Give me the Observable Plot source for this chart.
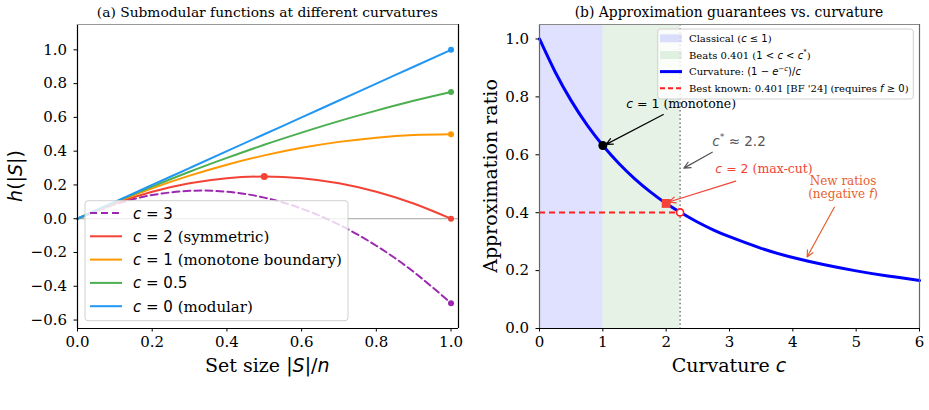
<!DOCTYPE html>
<html>
<head>
<meta charset="utf-8">
<script src="https://cdn.jsdelivr.net/npm/d3@7"></script>
<script src="https://cdn.jsdelivr.net/npm/@observablehq/plot@0.6"></script>
<style>
  html, body { margin: 0; padding: 0; background: #fff; }
  #fig { position: relative; width: 929px; height: 410px; overflow: hidden; }
  #fig svg { position: absolute; top: 0; }
</style>
</head>
<body>
<div id="fig"></div>
<script>
// ---------- data: panel (a), h(|S|) against set size |S|/n ----------
const setSize = [0, 0.1, 0.2, 0.3, 0.4, 0.5, 0.6, 0.7, 0.8, 0.9, 1.0];
const hC3  = [0, 0.085, 0.14, 0.165, 0.16, 0.125, 0.06, -0.035, -0.16, -0.315, -0.5];
const hC2  = [0, 0.09, 0.16, 0.21, 0.24, 0.25, 0.24, 0.21, 0.16, 0.09, 0];
const hC1  = [0, 0.095, 0.18, 0.255, 0.32, 0.375, 0.42, 0.455, 0.48, 0.495, 0.5];
const hC05 = [0, 0.098, 0.19, 0.278, 0.36, 0.438, 0.51, 0.578, 0.64, 0.698, 0.75];
const hC0  = [0, 0.1, 0.2, 0.3, 0.4, 0.5, 0.6, 0.7, 0.8, 0.9, 1.0];
const xTicksA = [0, 0.2, 0.4, 0.6, 0.8, 1.0];
const yTicksA = [-0.6, -0.4, -0.2, 0, 0.2, 0.4, 0.6, 0.8, 1.0];

// ---------- data: panel (b), approximation ratio against curvature ----------
const curvature = [0, 0.25, 0.5, 0.75, 1, 1.25, 1.5, 1.75, 2, 2.25, 2.5, 2.75, 3, 3.5, 4, 4.5, 5, 5.5, 6];
const ratio     = [1.000, 0.885, 0.787, 0.703, 0.632, 0.571, 0.518, 0.472, 0.432, 0.398, 0.367, 0.340, 0.317, 0.277, 0.245, 0.220, 0.199, 0.181, 0.166];
const cStar = 2.22;          // crossover curvature c*
const bestKnown = 0.401;     // best known ratio for non-negative f
const monotonePoint = [1, 0.632];
const maxCutPoint = [2, 0.432];
const xTicksB = [0, 1, 2, 3, 4, 5, 6];
const yTicksB = [0, 0.2, 0.4, 0.6, 0.8, 1.0];

// ---------- styling ----------
const SERIF = "'DejaVu Serif', 'Liberation Serif', serif";
const SANS = "'DejaVu Sans', sans-serif";
const fmt1 = d3.format(".1f");

// text made of runs in different faces (mathtext-like labels)
function richText(svg, x, y, parts, opts = {}) {
  const {size = 15, anchor = "start", fill = "black", rotate = 0} = opts;
  const t = d3.select(svg).append("text")
    .attr("x", x).attr("y", y)
    .attr("text-anchor", anchor)
    .attr("font-size", size)
    .attr("fill", fill)
    .attr("xml:space", "preserve")
    .style("white-space", "pre");
  if (rotate) t.attr("transform", `rotate(${rotate},${x},${y})`);
  let shift = 0;
  for (const [str, kind] of parts) {
    const sp = t.append("tspan").text(str);
    const sup = kind.startsWith("sup");
    sp.attr("font-family", kind === "serif" ? SERIF : SANS);
    if (kind === "it" || kind === "supit") sp.attr("font-style", "italic");
    const target = sup ? -0.42 * size : 0;
    if (target !== shift) { sp.attr("dy", target - shift); shift = target; }
    if (sup) sp.attr("font-size", size * 0.7);
  }
  return t;
}

const fig = document.getElementById("fig");

// ================= panel (a) =================
const curvesA = [
  {values: hC3,  color: "#9c27b0", dash: "7,4", label: [["c", "it"], [" = 3", "sans"]]},
  {values: hC2,  color: "#f44336", dash: null,  label: [["c", "it"], [" = 2", "sans"], [" (symmetric)", "serif"]]},
  {values: hC1,  color: "#ff9800", dash: null,  label: [["c", "it"], [" = 1", "sans"], [" (monotone boundary)", "serif"]]},
  {values: hC05, color: "#4caf50", dash: null,  label: [["c", "it"], [" = 0.5", "sans"]]},
  {values: hC0,  color: "#2196f3", dash: null,  label: [["c", "it"], [" = 0", "sans"], [" (modular)", "serif"]]}
];
const peakIdx = d3.maxIndex(hC2);

const marksA = [Plot.ruleY([0], {stroke: "#a0a0a0", strokeWidth: 1})];
for (const s of curvesA) {
  const pts = setSize.map((x, i) => ({x, y: s.values[i]}));
  marksA.push(Plot.line(pts, {x: "x", y: "y", stroke: s.color, strokeWidth: 2, strokeDasharray: s.dash, curve: "natural"}));
  marksA.push(Plot.dot([pts[pts.length - 1]], {x: "x", y: "y", fill: s.color, r: 3}));
  if (s.values === hC2) marksA.push(Plot.dot([pts[peakIdx]], {x: "x", y: "y", fill: s.color, r: 3.5}));
}
marksA.push(
  Plot.ruleX([0, 1.02], {stroke: "black", strokeWidth: 1.2}),
  Plot.ruleY([-0.65], {stroke: "black", strokeWidth: 1.2}),
  Plot.ruleY([1.15], {stroke: "#999", strokeWidth: 1.2}),
  Plot.axisX({ticks: xTicksA, tickFormat: fmt1, tickSize: 3.5, tickPadding: 4, fontSize: 15, label: null}),
  Plot.axisY({ticks: yTicksA, tickFormat: fmt1, tickSize: 3.5, tickPadding: 7, fontSize: 15, label: null})
);

const plotA = Plot.plot({
  width: 465, height: 410,
  marginLeft: 77, marginRight: 7, marginTop: 24, marginBottom: 82,
  style: {fontFamily: SERIF, fontSize: "15px", background: "transparent", color: "black"},
  x: {domain: [0, 1.02], label: null},
  y: {domain: [-0.65, 1.15], label: null},
  marks: marksA
});
plotA.style.left = "0px";
fig.appendChild(plotA);

// title, axis labels, legend of panel (a)
richText(plotA, 267.3, 17, [["(a) Submodular functions at different curvatures", "serif"]], {size: 13.8, anchor: "middle"});
richText(plotA, 267.3, 372, [["Set size ", "serif"], ["|", "sans"], ["S", "it"], ["|/", "sans"], ["n", "it"]], {size: 19, anchor: "middle"});
richText(plotA, 21.5, 176, [["h", "it"], ["(|", "sans"], ["S", "it"], ["|)", "sans"]], {size: 19, anchor: "middle", rotate: -90});

{
  const g = d3.select(plotA).append("g");
  g.append("rect").attr("x", 85).attr("y", 200.7).attr("width", 263).attr("height", 120)
    .attr("rx", 3).attr("fill", "white").attr("fill-opacity", 0.8).attr("stroke", "#d0d0d0");
  curvesA.forEach((s, k) => {
    const yy = 213 + k * 23.3;
    g.append("line").attr("x1", 90).attr("x2", 122).attr("y1", yy).attr("y2", yy)
      .attr("stroke", s.color).attr("stroke-width", 2).attr("stroke-dasharray", s.dash);
    richText(plotA, 133, yy + 5.5, s.label, {size: 15});
  });
}

// ================= panel (b) =================
const curveB = curvature.map((c, i) => ({c, r: ratio[i]}));
const plotB = Plot.plot({
  width: 464, height: 410,
  marginLeft: 74, marginRight: 10, marginTop: 24, marginBottom: 82,
  style: {fontFamily: SERIF, fontSize: "15px", background: "transparent", color: "black"},
  x: {domain: [0, 6], label: null},
  y: {domain: [0, 1.05], label: null},
  marks: [
    Plot.rect([{x1: 0, x2: 1}], {x1: "x1", x2: "x2", fill: "#0000ff", fillOpacity: 0.12, inset: 0}),
    Plot.rect([{x1: 1, x2: cStar}], {x1: "x1", x2: "x2", fill: "#008000", fillOpacity: 0.1, inset: 0}),
    Plot.ruleX([cStar], {stroke: "#777", strokeWidth: 1.5, strokeDasharray: "1.5,2.6"}),
    Plot.ruleY([{y: bestKnown, x1: 0, x2: cStar}], {y: "y", x1: "x1", x2: "x2", stroke: "#ff1f1f", strokeWidth: 2, strokeDasharray: "6,4"}),
    Plot.line(curveB, {x: "c", y: "r", stroke: "#0000ff", strokeWidth: 3, curve: "natural"}),
    Plot.dot([monotonePoint], {x: d => d[0], y: d => d[1], fill: "black", r: 4.5}),
    Plot.dot([maxCutPoint], {x: d => d[0], y: d => d[1], fill: "#f44336", symbol: "square", r: 5}),
    Plot.dot([[cStar, bestKnown]], {x: d => d[0], y: d => d[1], fill: "white", stroke: "#ff1f1f", strokeWidth: 1.6, r: 3.5}),
    Plot.arrow([{x1: 1.955, y1: 0.739, x2: 1.052, y2: 0.636}], {x1: "x1", y1: "y1", x2: "x2", y2: "y2", stroke: "black", strokeWidth: 1.2, headLength: 9, headAngle: 50}),
    Plot.arrow([{x1: 2.727, y1: 0.609, x2: 2.28, y2: 0.554}], {x1: "x1", y1: "y1", x2: "x2", y2: "y2", stroke: "#555", strokeWidth: 1.2, headLength: 9, headAngle: 50}),
    Plot.arrow([{x1: 3.098, y1: 0.509, x2: 2.043, y2: 0.437}], {x1: "x1", y1: "y1", x2: "x2", y2: "y2", stroke: "#f44336", strokeWidth: 1.2, headLength: 9, headAngle: 50}),
    Plot.arrow([{x1: 4.655, y1: 0.419, x2: 4.225, y2: 0.247}], {x1: "x1", y1: "y1", x2: "x2", y2: "y2", stroke: "#e8602c", strokeWidth: 1.2, headLength: 9, headAngle: 50}),
    Plot.ruleX([0, 6], {stroke: "#666", strokeWidth: 1.2}),
    Plot.ruleY([1.05], {stroke: "#888", strokeWidth: 1.2}),
    Plot.ruleY([0], {stroke: "black", strokeWidth: 1.2}),
    Plot.axisX({ticks: xTicksB, tickFormat: d3.format("d"), tickSize: 3.5, tickPadding: 4, fontSize: 15, label: null}),
    Plot.axisY({ticks: yTicksB, tickFormat: fmt1, tickSize: 3.5, tickPadding: 7, fontSize: 15, label: null})
  ]
});
plotB.style.left = "465px";
fig.appendChild(plotB);

const sx = plotB.scale("x"), sy = plotB.scale("y");
const px = (c, v) => [sx.apply(c), sy.apply(v)];

richText(plotB, 264, 17, [["(b) Approximation guarantees vs. curvature", "serif"]], {size: 13.9, anchor: "middle"});
richText(plotB, 264, 372, [["Curvature ", "serif"], ["c", "it"]], {size: 19, anchor: "middle"});
richText(plotB, 32, 176, [["Approximation ratio", "serif"]], {size: 19, anchor: "middle", rotate: -90});

// annotations
{
  let [x, y] = px(2.245, 0.760);
  richText(plotB, x, y, [["c", "it"], [" = 1", "sans"], [" (monotone)", "serif"]], {size: 12.5, anchor: "middle"});
  [x, y] = px(3.158, 0.629);
  richText(plotB, x, y, [["c", "it"], ["*", "sup"], [" ≈ 2.2", "sans"]], {size: 13.5, anchor: "middle", fill: "#555"});
  [x, y] = px(3.553, 0.534);
  richText(plotB, x, y, [["c", "it"], [" = 2", "sans"], [" (max-cut)", "serif"]], {size: 12.5, anchor: "middle", fill: "#f44336"});
  [x, y] = px(4.80, 0.494);
  richText(plotB, x, y, [["New ratios", "serif"]], {size: 12, anchor: "middle", fill: "#e8602c"});
  [x, y] = px(4.80, 0.448);
  richText(plotB, x, y, [["(negative ", "serif"], ["f", "it"], [")", "serif"]], {size: 12, anchor: "middle", fill: "#e8602c"});
}

// legend of panel (b)
{
  const g = d3.select(plotB).append("g");
  g.append("rect").attr("x", 192.7).attr("y", 29).attr("width", 255.6).attr("height", 70)
    .attr("rx", 3).attr("fill", "white").attr("fill-opacity", 0.8).attr("stroke", "#d0d0d0");
  const rows = [38.3, 55, 71.6, 88.3];
  const hx1 = 195, hx2 = 217;
  g.append("rect").attr("x", hx1).attr("y", rows[0] - 4).attr("width", hx2 - hx1).attr("height", 8)
    .attr("fill", "#0000ff").attr("fill-opacity", 0.12);
  g.append("rect").attr("x", hx1).attr("y", rows[1] - 4).attr("width", hx2 - hx1).attr("height", 8)
    .attr("fill", "#008000").attr("fill-opacity", 0.1);
  g.append("line").attr("x1", hx1).attr("x2", hx2).attr("y1", rows[2]).attr("y2", rows[2])
    .attr("stroke", "#0000ff").attr("stroke-width", 3);
  g.append("line").attr("x1", hx1).attr("x2", hx2).attr("y1", rows[3]).attr("y2", rows[3])
    .attr("stroke", "#ff1f1f").attr("stroke-width", 2).attr("stroke-dasharray", "5,3");
  const tx = 224;
  richText(plotB, tx, rows[0] + 3.6, [["Classical (", "serif"], ["c", "it"], [" ≤ 1", "sans"], [")", "serif"]], {size: 10});
  richText(plotB, tx, rows[1] + 3.6, [["Beats 0.401 (", "serif"], ["1 < ", "sans"], ["c", "it"], [" < ", "sans"], ["c", "it"], ["*", "sup"], [")", "serif"]], {size: 10});
  richText(plotB, tx, rows[2] + 3.6, [["Curvature: ", "serif"], ["(1 − ", "sans"], ["e", "it"], ["−", "sup"], ["c", "supit"], [")/", "sans"], ["c", "it"]], {size: 10});
  richText(plotB, tx, rows[3] + 3.6, [["Best known: 0.401 [BF '24] (requires ", "serif"], ["f", "it"], [" ≥ 0", "sans"], [")", "serif"]], {size: 10});
}
</script>
</body>
</html>
